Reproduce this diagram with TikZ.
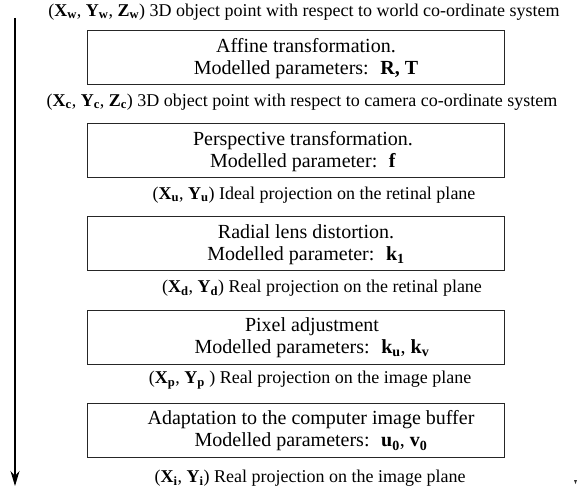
\documentclass[tikz,border=0pt]{standalone}
\usepackage{fontspec}
\setmainfont{Liberation Serif}
\usetikzlibrary{arrows.meta}
\newcommand{\bx}[2]{\textbf{#1}\textsubscript{\textbf{#2}}}
\begin{document}
\begin{tikzpicture}[x=1pt,y=-1pt,
  stagebox/.style={draw=black!85,line width=1pt,minimum width=417pt,minimum height=54pt,inner sep=0pt},
  boxtext/.style={align=center,inner sep=0pt,font=\fontsize{20}{22}\selectfont},
  lbl/.style={inner sep=0pt,font=\fontsize{18}{21}\selectfont},
  flow/.style={line width=1.2pt,-{Stealth[length=15pt,width=9pt]}}]
\useasboundingbox (0,0) rectangle (586,494);
\node[lbl] (l0) at (304,12) {(\bx{X}{w}, \bx{Y}{w}, \bx{Z}{w}) 3D object point with respect to world co-ordinate system};
\node[stagebox] (b1) at (295.5,58) {};
\node[boxtext] (t1) at (306,59) {Affine transformation.\\Modelled parameters:~ \textbf{R, T}};
\node[lbl] (l1) at (302,102) {(\bx{X}{c}, \bx{Y}{c}, \bx{Z}{c}) 3D object point with respect to camera co-ordinate system};
\node[stagebox] (b2) at (295.5,151) {};
\node[boxtext] (t2) at (303,152) {Perspective transformation.\\Modelled parameter:~ \textbf{f}};
\node[lbl] (l2) at (314,195) {(\bx{X}{u}, \bx{Y}{u}) Ideal projection on the retinal plane};
\node[stagebox] (b3) at (295.5,244) {};
\node[boxtext] (t3) at (306,245) {Radial lens distortion.\\Modelled parameter:~ \bx{k}{1}};
\node[lbl] (l3) at (322,288) {(\bx{X}{d}, \bx{Y}{d}) Real projection on the retinal plane};
\node[stagebox] (b4) at (295.5,337) {};
\node[boxtext] (t4) at (312,338) {Pixel adjustment\hspace{1.2em}\\Modelled parameters:~ \bx{k}{u}, \bx{k}{v}};
\node[lbl] (l4) at (310,380) {(\bx{X}{p}, \bx{Y}{p} ) Real projection on the image plane};
\node[stagebox] (b5) at (295.5,430) {};
\node[boxtext] (t5) at (311,431) {Adaptation to the computer image buffer\\Modelled parameters:~ \bx{u}{0}, \bx{v}{0}};
\node[lbl] (l5) at (310,478) {(\bx{X}{i}, \bx{Y}{i}) Real projection on the image plane};
\coordinate (s) at (15,18);
\coordinate (e) at (15,486);
\draw[flow] (s) -- (e);
\fill[black!80] (574,480) -- (577,480) -- (575.5,484) -- cycle;
\end{tikzpicture}
\end{document}
